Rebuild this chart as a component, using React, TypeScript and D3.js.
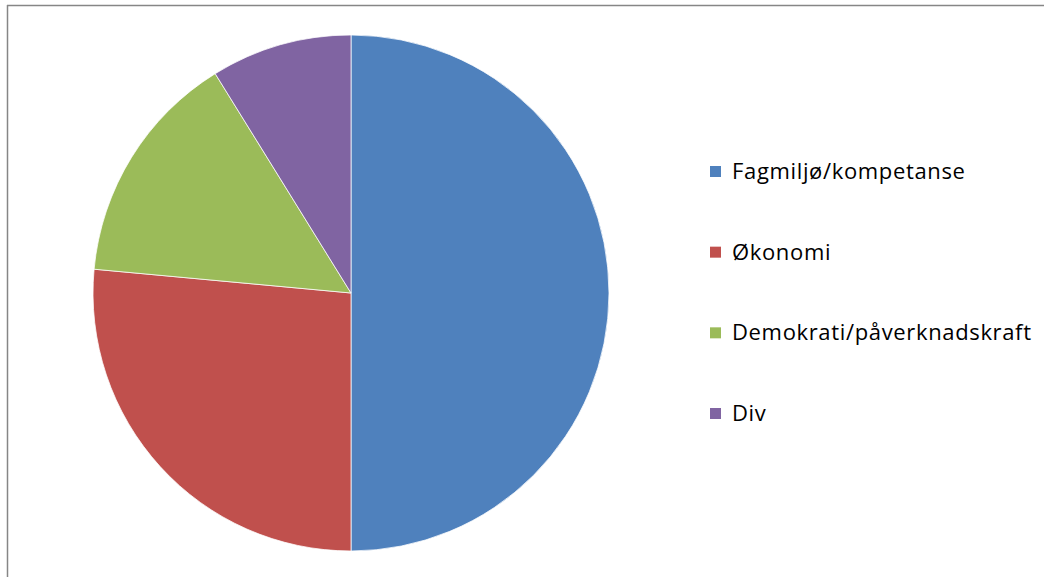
import React from "react";
import * as d3 from "d3";

const categories = ["Fagmiljø/kompetanse", "Økonomi", "Demokrati/påverknadskraft", "Div"];
const values = [17, 9, 5, 3];
const colors = ["#4F81BD", "#C0504D", "#9BBB59", "#8064A2"];

export default function App() {
  const W = 1044, H = 577;
  const cx = 351, cy = 293, r = 258;
  const pie = d3.pie<number>().sort(null).value((d) => d)(values);
  const arc = d3.arc<d3.PieArcDatum<number>>().innerRadius(0).outerRadius(r);
  const legendY = d3.scalePoint<string>().domain(categories).range([179, 421]);
  return (
    <svg width={W} height={H} style={{ position: "absolute", left: 0, top: 0 }}>
      <rect width={W} height={H} fill="#fff" />
      <line x1={7.5} y1={5} x2={7.5} y2={H} stroke="#868686" strokeWidth={1.5} />
      <line x1={7} y1={5.5} x2={W} y2={5.5} stroke="#868686" strokeWidth={1.5} />
      <g transform={`translate(${cx},${cy})`}>
        {pie.map((p, i) => (
          <path key={i} d={arc(p) || ""} fill={colors[i]} stroke="#fff" strokeWidth={0.75} />
        ))}
      </g>
      {categories.map((c, i) => (
        <g key={c} transform={`translate(710,${legendY(c)})`}>
          <rect x={0} y={-13} width={11} height={11} fill={colors[i]} />
          <text x={22} y={0} fontFamily="'Open Sans', sans-serif" fontSize={22} letterSpacing={0.65} fill="#000">
            {c}
          </text>
        </g>
      ))}
    </svg>
  );
}
